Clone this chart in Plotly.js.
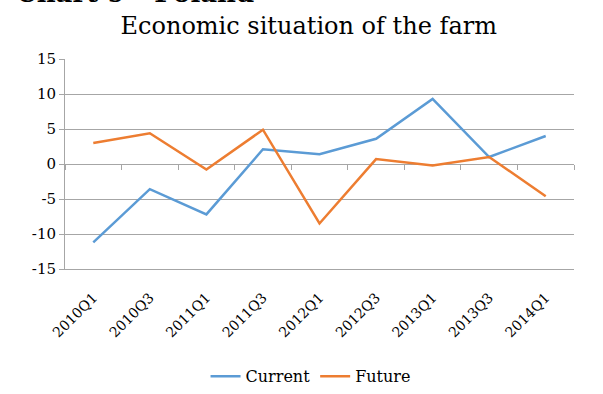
<!DOCTYPE html>
<html>
<head>
<meta charset="utf-8">
<script src="https://cdn.plot.ly/plotly-3.0.1.min.js"></script>
<style>html,body{margin:0;padding:0;background:#fff;}#chart{width:603px;height:394px;}</style>
</head>
<body>
<div id="chart"></div>
<script>
var categories = ["2010Q1","2010Q3","2011Q1","2011Q3","2012Q1","2012Q3","2013Q1","2013Q3","2014Q1"];
var currentValues = [-11.2, -3.6, -7.2, 2.1, 1.4, 3.6, 9.3, 1.0, 4.0];
var futureValues = [3.0, 4.4, -0.8, 4.9, -8.5, 0.7, -0.2, 1.0, -4.6];
var yTicks = [-15, -10, -5, 0, 5, 10, 15];

var FONT = "DejaVu Serif, Georgia, serif";

var traces = [
  {x: categories, y: currentValues, name: "Current", type: "scatter", mode: "lines",
   line: {color: "#5b9bd5", width: 2.5}, xaxis: "x", yaxis: "y"},
  {x: categories, y: futureValues, name: "Future", type: "scatter", mode: "lines",
   line: {color: "#ed7d31", width: 2.5}, xaxis: "x", yaxis: "y"},
  {x: categories, y: futureValues, type: "scatter", mode: "lines", showlegend: false,
   hoverinfo: "skip", line: {color: "rgba(0,0,0,0)", width: 0}, xaxis: "x2", yaxis: "y"}
];

var layout = {
  width: 603, height: 394,
  margin: {l: 65, r: 29, t: 59, b: 125},
  paper_bgcolor: "#ffffff", plot_bgcolor: "#ffffff",
  font: {family: FONT, color: "#000000"},
  title: {text: "Economic situation of the farm", font: {family: FONT, size: 24, color: "#000"},
          xref: "container", x: 0.512, xanchor: "center", yref: "container", y: 0.935, yanchor: "middle"},
  showlegend: true,
  legend: {orientation: "h", xref: "container", x: 0.515, xanchor: "center", yref: "container", y: 0.045, yanchor: "middle",
           font: {family: FONT, size: 16, color: "#000"}, itemwidth: 30, tracegroupgap: 0},
  xaxis: {type: "category", categoryarray: categories, range: [-0.5, 8.5],
          showgrid: false, zeroline: false, showline: true, linecolor: "#a6a6a6", linewidth: 1, ticks: "",
          tickangle: -45, tickfont: {family: FONT, size: 14, color: "#000"}, ticklabelstandoff: 14},
  xaxis2: {type: "category", categoryarray: categories, range: [-0.5, 8.5], overlaying: "x",
           anchor: "free", position: 0.5, showgrid: false, zeroline: false, showline: false,
           showticklabels: false, ticks: "outside", tickson: "boundaries", ticklen: 5, tickwidth: 1, tickcolor: "#a6a6a6"},
  yaxis: {range: [-15, 15], tickvals: yTicks, ticktext: yTicks.map(String), showgrid: true, gridcolor: "#a6a6a6", gridwidth: 1,
          zeroline: true, zerolinecolor: "#a6a6a6", zerolinewidth: 1,
          showline: true, linecolor: "#a6a6a6", linewidth: 1, ticks: "outside", ticklen: 5, tickcolor: "#a6a6a6",
          tickfont: {family: FONT, size: 15, color: "#000"}},
  annotations: [
    {text: "<b>Chart 9 - Poland</b>", xref: "paper", yref: "paper", x: -0.1, xanchor: "left", y: 1.235, yanchor: "bottom",
     showarrow: false, font: {family: FONT, size: 26, color: "#000"}}
  ]
};

Plotly.newPlot("chart", traces, layout, {displayModeBar: false, staticPlot: true});
</script>
</body>
</html>
